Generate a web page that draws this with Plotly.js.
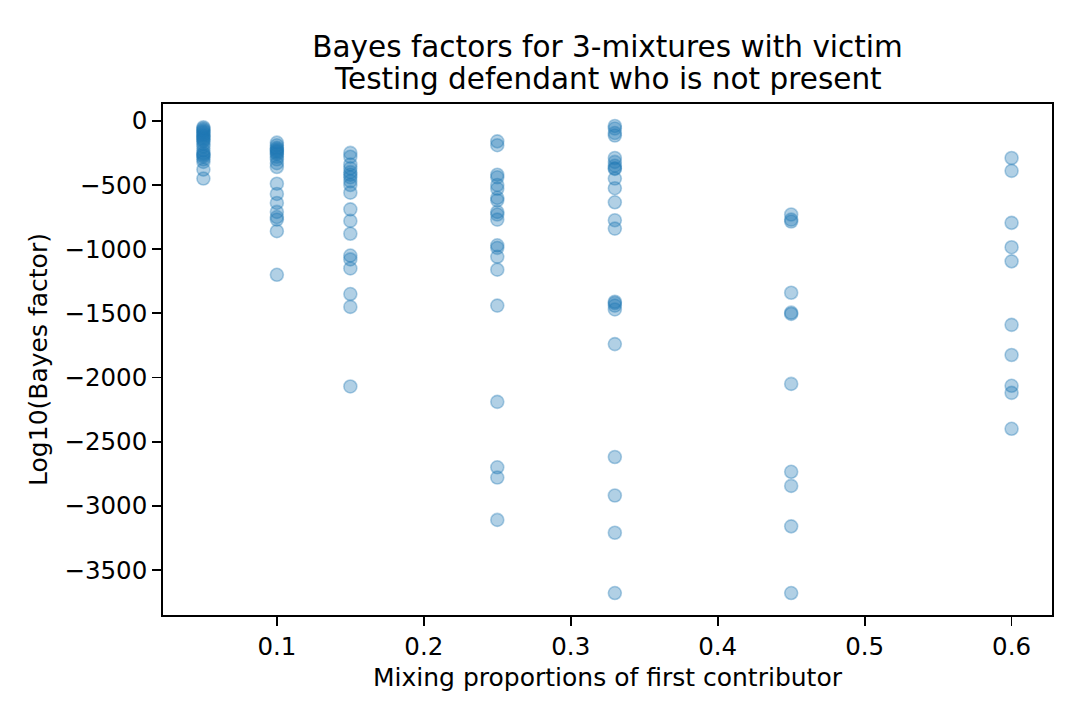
<!DOCTYPE html>
<html>
<head>
<meta charset="utf-8">
<script src="https://cdn.plot.ly/plotly-3.0.1.min.js"></script>
<style>html,body{margin:0;padding:0;background:#fff;}#chart{width:1080px;height:720px;}</style>
</head>
<body>
<div id="chart"></div>
<script>
// Mixing proportions of the first contributor (x positions of each column)
const proportions = [0.05, 0.1, 0.15, 0.25, 0.33, 0.45, 0.6];

// Log10(Bayes factor) values read from each column
const bf_005 = [-50, -60, -70, -80, -90, -100, -110, -120, -130, -140, -150, -160, -180, -200, -230, -250, -260, -270, -280, -300, -320, -380, -450];
const bf_010 = [-170, -190, -210, -220, -230, -240, -250, -260, -280, -300, -330, -360, -490, -570, -640, -710, -750, -770, -860, -1200];
const bf_015 = [-250, -280, -340, -370, -400, -420, -440, -470, -500, -560, -690, -780, -880, -1050, -1080, -1150, -1350, -1450, -2070];
const bf_025 = [-160, -190, -420, -440, -500, -530, -600, -620, -710, -730, -770, -970, -990, -1060, -1160, -1440, -2190, -2700, -2780, -3110];
const bf_033 = [-40, -60, -95, -115, -290, -320, -350, -370, -375, -450, -525, -635, -775, -840, -1410, -1420, -1440, -1470, -1740, -2620, -2920, -3210, -3680];
const bf_045 = [-730, -770, -785, -1340, -1495, -1505, -2050, -2735, -2845, -3160, -3680];
const bf_060 = [-290, -390, -795, -985, -1095, -1590, -1825, -2065, -2120, -2400];

const columns = [bf_005, bf_010, bf_015, bf_025, bf_033, bf_045, bf_060];

const xs = [], ys = [];
columns.forEach((col, i) => {
  col.forEach(v => { xs.push(proportions[i]); ys.push(v); });
});

const xTicks = [0.1, 0.2, 0.3, 0.4, 0.5, 0.6];
const xTickText = ['0.1', '0.2', '0.3', '0.4', '0.5', '0.6'];
const yTicks = [0, -500, -1000, -1500, -2000, -2500, -3000, -3500];
const yTickText = ['0', '\u2212500', '\u22121000', '\u22121500', '\u22122000', '\u22122500', '\u22123000', '\u22123500'];

const titleLine1 = 'Bayes factors for 3-mixtures with victim';
const titleLine2 = 'Testing defendant who is not present';

const FONT = 'DejaVu Sans, sans-serif';

const trace = {
  x: xs, y: ys, type: 'scatter', mode: 'markers',
  marker: {
    size: 13,
    color: 'rgba(31,119,180,0.35)',
    line: {color: 'rgba(31,119,180,0.35)', width: 1.6}
  },
  hoverinfo: 'x+y'
};

const axisCommon = {
  showline: true, mirror: true, linecolor: '#000', linewidth: 1.8,
  ticks: 'outside', ticklen: 9, tickwidth: 1.8, tickcolor: '#000',
  showgrid: false, zeroline: false,
  tickfont: {family: FONT, size: 24.5, color: '#000'}
};

const layout = {
  width: 1080, height: 720,
  paper_bgcolor: '#fff', plot_bgcolor: '#fff',
  margin: {l: 163, r: 28, t: 104, b: 105},
  showlegend: false,
  title: {
    text: titleLine1,
    font: {family: FONT, size: 29.5, color: '#000'},
    x: 0.5, xref: 'paper', xanchor: 'center',
    y: 1 - 47 / 720, yref: 'container', yanchor: 'middle'
  },
  annotations: [{
    text: titleLine2, showarrow: false,
    xref: 'paper', yref: 'paper', x: 0.5, y: 1,
    xanchor: 'center', yanchor: 'middle', yshift: 104 - 79,
    font: {family: FONT, size: 29.5, color: '#000'}
  }],
  xaxis: Object.assign({}, axisCommon, {
    range: [0.0225, 0.6275],
    tickmode: 'array', tickvals: xTicks, ticktext: xTickText,
    title: {text: 'Mixing proportions of first contributor', font: {family: FONT, size: 25, color: '#000'}, standoff: 8}
  }),
  yaxis: Object.assign({}, axisCommon, {
    range: [-3851, 131],
    tickmode: 'array', tickvals: yTicks, ticktext: yTickText,
    title: {text: 'Log10(Bayes factor)', font: {family: FONT, size: 25, color: '#000'}, standoff: 10}
  })
};

Plotly.newPlot('chart', [trace], layout, {staticPlot: true, displayModeBar: false});
</script>
</body>
</html>
